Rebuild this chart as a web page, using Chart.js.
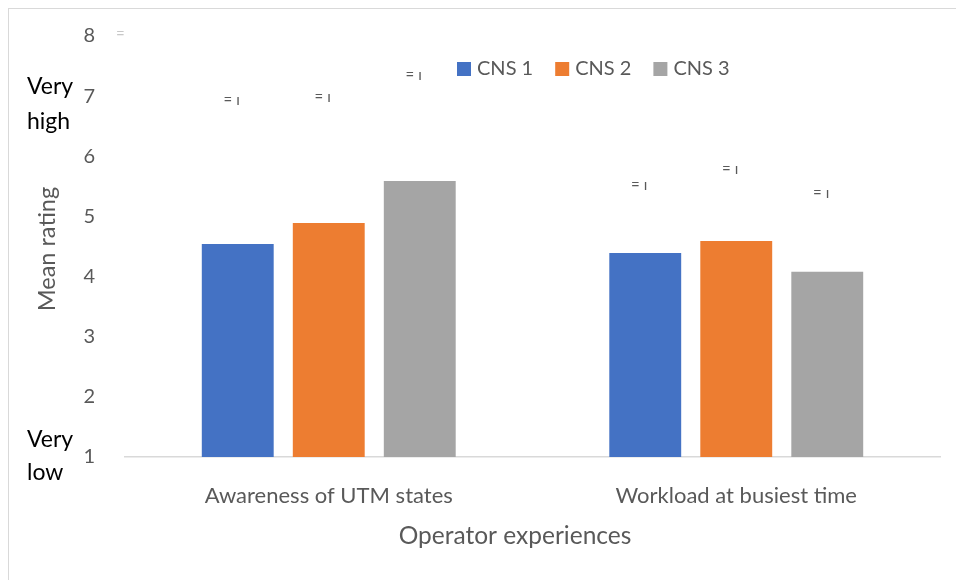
<!DOCTYPE html>
<html>
<head>
<meta charset="utf-8">
<script src="https://cdn.jsdelivr.net/npm/chart.js@4.4.0/dist/chart.umd.min.js"></script>
<style>
  html, body { margin: 0; padding: 0; background: #fff; }
  #wrap { position: relative; width: 956px; height: 580px; overflow: hidden; }
  #frame { position: absolute; left: 8px; top: 8px; width: 1000px; height: 700px; border: 1px solid #d9d9d9; }
  canvas { position: absolute; left: 0; top: 0; }
</style>
</head>
<body>
<div id="wrap">
  <div id="frame"></div>
  <canvas id="grafico" width="956" height="580"></canvas>
</div>
<script>
// datos del grafico
const categorias = ['Awareness of UTM states', 'Workload at busiest time'];
const series = ['CNS 1', 'CNS 2', 'CNS 3'];
const cns1 = [4.54, 4.39];
const cns2 = [4.89, 4.59];
const cns3 = [5.59, 4.08];
// posiciones de las marcas pequenas sobre las barras
const marcas1 = [6.93, 5.52];
const marcas2 = [6.99, 5.79];
const marcas3 = [7.35, 5.39];
const colores = ['#4472C4', '#ED7D31', '#A5A5A5'];
const ticksY = [1, 2, 3, 4, 5, 6, 7, 8];

const FUENTE = 'Lato, "Liberation Sans", sans-serif';
const GRIS = '#595959';

// textos extra, leyenda y marcas
const extras = {
  id: 'extras',
  afterDraw(chart) {
    const ctx = chart.ctx;
    const y = chart.scales.y;
    ctx.save();

    // leyenda
    ctx.font = '20px ' + FUENTE;
    ctx.textBaseline = 'middle';
    ctx.textAlign = 'left';
    let x = 457;
    chart.data.datasets.forEach((ds, i) => {
      ctx.fillStyle = ds.backgroundColor;
      ctx.fillRect(x, 62, 14, 14);
      ctx.fillStyle = GRIS;
      ctx.fillText(ds.label, x + 20, 69);
      x += 20 + ctx.measureText(ds.label).width + 22;
    });

    // marcas pequenas
    const marcas = [marcas1, marcas2, marcas3];
    ctx.font = '15px ' + FUENTE;
    ctx.textAlign = 'right';
    ctx.fillStyle = GRIS;
    marcas.forEach((m, i) => {
      const meta = chart.getDatasetMeta(i);
      m.forEach((v, j) => {
        ctx.fillText('= \u0131', meta.data[j].x + 2, y.getPixelForValue(v));
      });
    });
    ctx.fillStyle = '#c8c8c8';
    ctx.textAlign = 'left';
    ctx.fillText('=', 116, y.getPixelForValue(8) - 2);

    // very high / very low
    ctx.fillStyle = '#000';
    ctx.font = '23px ' + FUENTE;
    ctx.textAlign = 'left';
    ctx.fillText('Very', 27, 87);
    ctx.fillText('high', 27, 122);
    ctx.fillText('Very', 27, 440);
    ctx.fillText('low', 27, 473);

    // titulo eje y
    ctx.fillStyle = GRIS;
    ctx.font = '23.5px ' + FUENTE;
    ctx.translate(47, 249);
    ctx.rotate(-Math.PI / 2);
    ctx.textAlign = 'center';
    ctx.fillText('Mean rating', 0, 0);
    ctx.restore();

    // titulo eje x
    ctx.save();
    ctx.fillStyle = GRIS;
    ctx.font = '24.5px ' + FUENTE;
    ctx.textAlign = 'center';
    ctx.textBaseline = 'middle';
    ctx.fillText('Operator experiences', 515, 536);
    ctx.restore();
  }
};

const ctx = document.getElementById('grafico').getContext('2d');
new Chart(ctx, {
  type: 'bar',
  data: {
    labels: categorias,
    datasets: [
      { label: series[0], data: cns1, backgroundColor: colores[0] },
      { label: series[1], data: cns2, backgroundColor: colores[1] },
      { label: series[2], data: cns3, backgroundColor: colores[2] }
    ]
  },
  options: {
    responsive: false,
    animation: false,
    layout: { padding: { top: 36, left: 0, right: 16, bottom: 0 } },
    datasets: { bar: { categoryPercentage: 0.67, barPercentage: 0.79 } },
    scales: {
      x: {
        grid: { display: false },
        border: { display: true, color: '#d9d9d9', width: 1.5 },
        ticks: { color: GRIS, font: { family: FUENTE, size: 22 }, padding: 18 },
        afterFit(scale) { scale.height = 123; }
      },
      y: {
        min: 1,
        max: 8,
        afterBuildTicks(scale) { scale.ticks = ticksY.map(v => ({ value: v })); },
        grid: { display: false },
        border: { display: false },
        ticks: { color: GRIS, font: { family: FUENTE, size: 20 }, padding: 22 },
        afterFit(scale) { scale.width = 125; }
      }
    },
    plugins: {
      legend: { display: false },
      tooltip: { enabled: false }
    }
  },
  plugins: [extras]
});
</script>
</body>
</html>
